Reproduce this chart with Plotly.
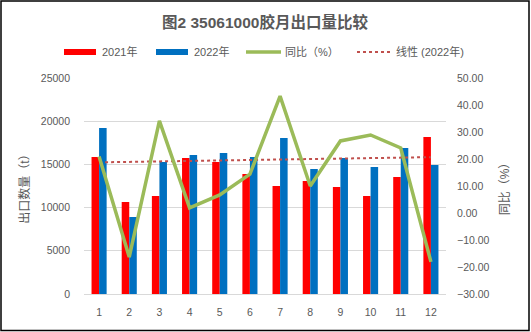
import numpy as np
import plotly.graph_objects as go

months = [1, 2, 3, 4, 5, 6, 7, 8, 9, 10, 11, 12]
month_labels = ["1", "2", "3", "4", "5", "6", "7", "8", "9", "10", "11", "12"]
exports_2021 = [15860, 10650, 11340, 15740, 15280, 13890, 12500, 13080, 12380, 11340, 13540, 18170]
exports_2022 = [19210, 8910, 15280, 16090, 16320, 15860, 18060, 14470, 15740, 14700, 16900, 14930]
yoy_pct = [20.9, -16.3, 34.1, 1.9, 6.7, 14.4, 43.3, 10.0, 26.7, 28.9, 24.1, -18.1]

# linear trendline of 2022 series (as Excel's "线性" trendline)
coef = np.polyfit(months, exports_2022, 1)
trend_2022 = list(np.polyval(coef, months))

W, H = 531, 332
L, R, T, B = 84, 446, 78, 294
GRAY = "#595959"
FONT = "Liberation Sans, Noto Sans CJK SC, sans-serif"


def px(x):
    return (x - L) / (R - L)


def py(y):
    return (B - y) / (B - T)


fig = go.Figure()
fig.add_trace(go.Bar(x=months, y=exports_2021, name="2021年", marker_color="#FF0000",
                     marker_line_width=0, showlegend=False))
fig.add_trace(go.Bar(x=months, y=exports_2022, name="2022年", marker_color="#0070C0",
                     marker_line_width=0, showlegend=False))
fig.add_trace(go.Scatter(x=months, y=trend_2022, name="线性 (2022年)", mode="lines",
                         line=dict(color="#C0504D", width=2, dash="dot"), showlegend=False))
fig.add_trace(go.Scatter(x=months, y=yoy_pct, name="同比（%）", mode="lines", yaxis="y2",
                         line=dict(color="#9BBB59", width=3.5), showlegend=False))

fig.update_layout(
    width=W, height=H,
    margin=dict(l=L, r=W - R, t=T, b=H - B),
    paper_bgcolor="white", plot_bgcolor="white",
    font=dict(family=FONT, color=GRAY, size=10.5),
    barmode="group", bargap=0.5, bargroupgap=0,
    xaxis=dict(range=[0.5, 12.5], tickmode="array", tickvals=months, ticktext=month_labels,
               showgrid=False, zeroline=False, showline=True, linecolor="#D9D9D9",
               ticks="", ticklabelstandoff=8, tickfont=dict(size=10.5, color=GRAY)),
    yaxis=dict(range=[0, 25000], dtick=5000, tickformat="d", showgrid=True, gridcolor="#D9D9D9",
               zeroline=False, showline=False, ticks="", ticklabelstandoff=13,
               tickfont=dict(size=10.5, color=GRAY),
               title=dict(text="出口数量（t）", font=dict(size=12, color=GRAY), standoff=8)),
    yaxis2=dict(range=[-30, 50], dtick=10, overlaying="y", side="right", showgrid=False,
                zeroline=False, showline=False, ticks="", tickformat=".2f",
                ticklabelstandoff=10, tickfont=dict(size=10.5, color=GRAY),
                title=dict(text="同比（%）", font=dict(size=12, color=GRAY), standoff=12)),
)

# title
fig.add_annotation(text="<b>图2 35061000胶月出口量比较</b>", xref="paper", yref="paper",
                   x=px(265), y=py(22), showarrow=False, xanchor="center", yanchor="middle",
                   font=dict(size=15.5, color=GRAY))

# custom legend
ly = 52
items = [
    ("bar", "#FF0000", 64, 96, "2021年", 100),
    ("bar", "#0070C0", 156, 188, "2022年", 192),
    ("line", "#9BBB59", 246, 281, "同比（%）", 283),
    ("dot", "#C0504D", 357, 390, "线性 (2022年)", 394),
]
for kind, col, x0, x1, label, tx in items:
    if kind == "bar":
        fig.add_shape(type="rect", xref="paper", yref="paper", x0=px(x0), x1=px(x1),
                      y0=py(ly + 3), y1=py(ly - 3), fillcolor=col, line_width=0)
    elif kind == "line":
        fig.add_shape(type="line", xref="paper", yref="paper", x0=px(x0), x1=px(x1),
                      y0=py(ly), y1=py(ly), line=dict(color=col, width=3.5))
    else:
        fig.add_shape(type="line", xref="paper", yref="paper", x0=px(x0), x1=px(x1),
                      y0=py(ly), y1=py(ly), line=dict(color=col, width=2, dash="dot"))
    fig.add_annotation(text=label, xref="paper", yref="paper", x=px(tx), y=py(ly),
                       showarrow=False, xanchor="left", yanchor="middle",
                       font=dict(size=11, color=GRAY))

# chart border
fig.add_shape(type="rect", xref="paper", yref="paper", x0=px(1), x1=px(529),
              y0=py(330.5), y1=py(1), line=dict(color="#000000", width=1.5),
              fillcolor="rgba(0,0,0,0)", layer="above")

fig.write_html("out.html")
